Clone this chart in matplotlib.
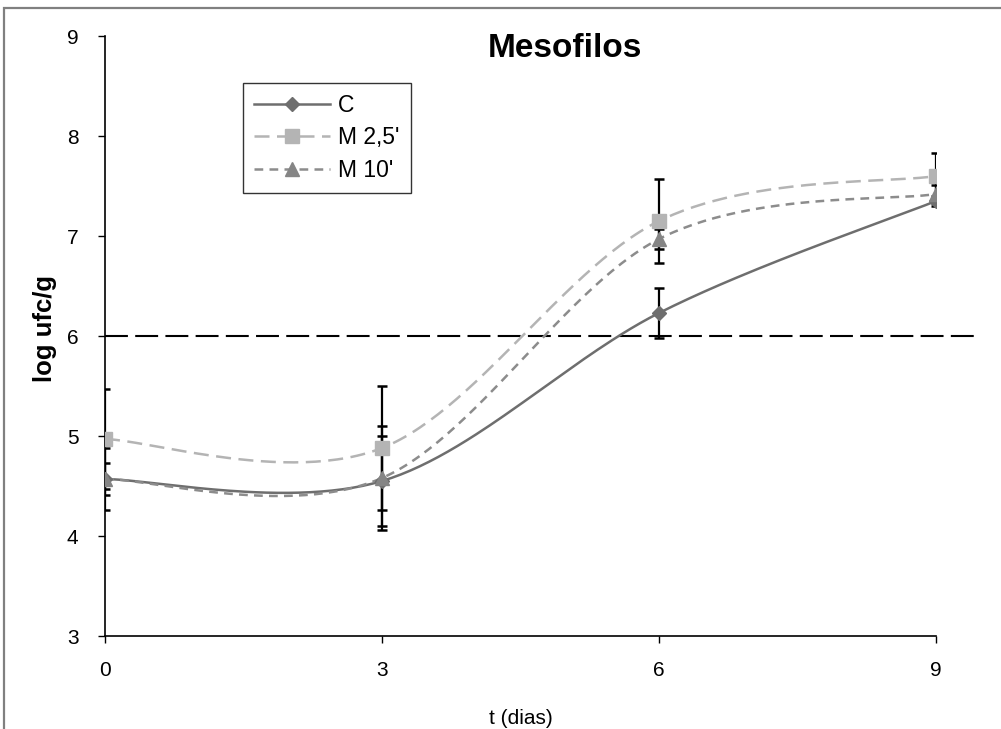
import numpy as np
import matplotlib
matplotlib.use("Agg")
import matplotlib.pyplot as plt
from matplotlib.patches import Rectangle

plt.rcParams['font.family'] = ['Liberation Sans', 'DejaVu Sans']

days = [0, 3, 6, 9]
c_vals = [4.57, 4.55, 6.23, 7.35]
c_err = [0.31, 0.45, 0.25, 0.05]
m25_vals = [4.97, 4.88, 7.15, 7.60]
m25_err = [0.50, 0.62, 0.42, 0.23]
m10_vals = [4.57, 4.58, 6.97, 7.42]
m10_err = [0.16, 0.52, 0.10, 0.09]
limit = 6.0
xticks = [0, 3, 6, 9]
yticks = [3, 4, 5, 6, 7, 8, 9]


def smooth(xs, ys, sx=831 / 9, sy=100.0, n=60):
    # Excel-like smoothed line (Catmull-Rom Bezier in screen space)
    P = np.column_stack([np.array(xs, float) * sx, np.array(ys, float) * sy])
    m = len(P)
    T = np.zeros_like(P)
    for i in range(m):
        a = P[max(i - 1, 0)]
        b = P[min(i + 1, m - 1)]
        T[i] = (b - a) / 2
    out = []
    t = np.linspace(0, 1, n)[:, None]
    for i in range(m - 1):
        p0 = P[i]; p3 = P[i + 1]
        p1 = p0 + T[i] / 3
        p2 = p3 - T[i + 1] / 3
        seg = ((1 - t) ** 3) * p0 + 3 * ((1 - t) ** 2) * t * p1 + 3 * (1 - t) * t ** 2 * p2 + t ** 3 * p3
        out.append(seg if i == 0 else seg[1:])
    out = np.vstack(out)
    return out[:, 0] / sx, out[:, 1] / sy


fig = plt.figure(figsize=(10.01, 7.29), dpi=100)
ax = fig.add_axes([105 / 1001, 1 - 636 / 729, 831 / 1001, 600 / 729])

# outer chart frame
fig.add_artist(Rectangle((4 / 1001, -0.1), 1.2, 0.1 + 721 / 729, transform=fig.transFigure,
                         fill=False, edgecolor='#808080', linewidth=1.6, clip_on=False))

ax.axhline(limit, xmin=0, xmax=1.047, color='black', linestyle=(0, (11, 3.5)), linewidth=1.5,
           clip_on=False, zorder=1)

series = [
    (c_vals, c_err, 'C', '#6e6e6e', '-', 'D', 7.5, '#6e6e6e'),
    (m25_vals, m25_err, "M 2,5'", '#b4b4b4', (0, (6, 3)), 's', 9.5, '#b4b4b4'),
    (m10_vals, m10_err, "M 10'", '#8c8c8c', (0, (3.5, 2.5)), '^', 9.5, '#858585'),
]
handles = []
for vals, err, lab, col, ls, mk, ms, mcol in series:
    sxv, syv = smooth(days, vals)
    ax.plot(sxv, syv, color=col, linestyle=ls, linewidth=1.8, zorder=3)
    ax.errorbar(days, vals, yerr=err, fmt='none', ecolor='black', elinewidth=1.6,
                capsize=3.8, capthick=1.8, zorder=4)
    ax.plot(days, vals, linestyle='none', marker=mk, markersize=ms, color=mcol, zorder=5)
    h, = ax.plot([], [], color=col, linestyle=ls, linewidth=1.8, marker=mk, markersize=ms,
                 markerfacecolor=mcol, markeredgecolor=mcol)
    h.set_label(lab)
    handles.append(h)

ax.set_xlim(0, 9)
ax.set_ylim(3, 9)
ax.set_xticks(xticks)
ax.set_yticks(yticks)
ax.tick_params(axis='both', labelsize=15, length=5, width=1, direction='out', color='black')
ax.tick_params(axis='x', pad=13)
ax.tick_params(axis='y', pad=14)
for s in ['top', 'right']:
    ax.spines[s].set_visible(False)
for s in ['left', 'bottom']:
    ax.spines[s].set_linewidth(1.2)
    ax.spines[s].set_color('black')

ax.set_title('Mesofilos', fontsize=24, fontweight='bold', x=0.553, y=0.951)
ax.set_xlabel('t (dias)', fontsize=15, labelpad=21)
ax.set_ylabel('log ufc/g', fontsize=18.5, fontweight='bold')
ax.yaxis.set_label_coords(-0.058, 0.513)

leg = ax.legend(handles=handles, loc='upper left', bbox_to_anchor=(0.166, 0.922),
                fontsize=16.5, frameon=True, fancybox=False, handlelength=3.3,
                borderpad=0.5, labelspacing=0.4, handletextpad=0.35, borderaxespad=0)
leg.get_frame().set_edgecolor('black')
leg.get_frame().set_linewidth(1.0)

fig.savefig('out.png', dpi=100)
